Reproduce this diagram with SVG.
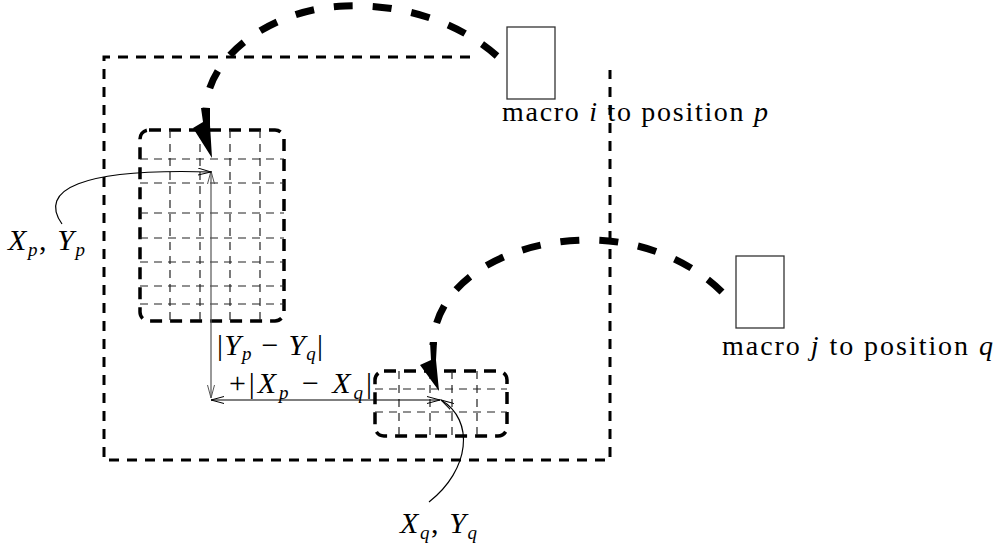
<svg xmlns="http://www.w3.org/2000/svg" width="1000" height="547" viewBox="0 0 1000 547">
<defs>
<style>
.outer{fill:none;stroke:#000;stroke-width:3;stroke-dasharray:10 8}
.blk{fill:none;stroke:#000;stroke-width:3.5;stroke-dasharray:12 8}
.grid{fill:none;stroke:#222;stroke-width:1.2;stroke-dasharray:8 6}
.move{fill:none;stroke:#000;stroke-width:7;stroke-dasharray:19 20}
.head{fill:#000;stroke:none}
.macro{fill:#fff;stroke:#333;stroke-width:1.3}
.thin{fill:none;stroke:#000;stroke-width:1.2}
.gray{fill:none;stroke:#555;stroke-width:1.2}
text{font-family:"Liberation Serif","Times New Roman",serif;fill:#000}
.lbl{font-size:28px}
.eq{font-size:30px}
.m{font-style:italic}
.sub{font-size:19px;font-style:italic}
</style>
<marker id="ah" viewBox="0 0 14 8" refX="13" refY="4" markerWidth="14" markerHeight="8" markerUnits="userSpaceOnUse" orient="auto-start-reverse">
<path d="M0,0.5 L13,4 L0,7.5" fill="none" stroke="#000" stroke-width="1"/>
</marker>
<marker id="ahg" viewBox="0 0 14 8" refX="13" refY="4" markerWidth="14" markerHeight="8" markerUnits="userSpaceOnUse" orient="auto-start-reverse">
<path d="M0,0.5 L13,4 L0,7.5" fill="none" stroke="#555" stroke-width="1"/>
</marker>
</defs>
<rect width="1000" height="547" fill="#fff"/>

<g id="region">
<path class="outer" d="M470,57 L104,57 L104,460 L610,460 L610,70"/>
</g>

<g id="block-p">
<rect class="blk" x="140" y="130" width="144" height="191" rx="9"/>
<path class="grid" d="M170,130V321M200,130V321M230,130V321M260,130V321M140,159H284M140,183H284M140,213H284M140,238H284M140,262H284M140,286H284M140,304H284"/>
</g>

<g id="block-q">
<rect class="blk" x="375" y="371" width="132" height="65" rx="9"/>
<path class="grid" d="M399,371V436M430,371V436M452,371V436M477,371V436M375,389H507M375,412H507"/>
</g>

<g id="macro-i">
<rect class="macro" x="507" y="27" width="48" height="72"/>
<text class="lbl" x="502" y="121" textLength="266" lengthAdjust="spacing">macro <tspan class="m">i</tspan> to position <tspan class="m">p</tspan></text>
</g>

<g id="macro-j">
<rect class="macro" x="736" y="256" width="48" height="72"/>
<text class="lbl" x="722" y="355" textLength="271" lengthAdjust="spacing">macro <tspan class="m">j</tspan> to position <tspan class="m">q</tspan></text>
</g>

<g id="label-p">
<text class="eq" x="8" y="250" textLength="77" lengthAdjust="spacing"><tspan class="m">X</tspan><tspan class="sub" y="256">p</tspan><tspan y="250">, </tspan><tspan class="m">Y</tspan><tspan class="sub" y="256">p</tspan></text>
</g>

<g id="label-q">
<text class="eq" x="400" y="533" textLength="77" lengthAdjust="spacing"><tspan class="m">X</tspan><tspan class="sub" y="539">q</tspan><tspan y="533">, </tspan><tspan class="m">Y</tspan><tspan class="sub" y="539">q</tspan></text>
</g>

<g id="label-dist">
<text class="eq" x="217" y="355" textLength="106" lengthAdjust="spacing">|<tspan class="m">Y</tspan><tspan class="sub" y="360">p</tspan><tspan y="355"> − </tspan><tspan class="m">Y</tspan><tspan class="sub" y="360">q</tspan><tspan y="355">|</tspan></text>
<text class="eq" x="229" y="393" textLength="143" lengthAdjust="spacing">+|<tspan class="m">X</tspan><tspan class="sub" y="399">p</tspan><tspan y="393"> − </tspan><tspan class="m">X</tspan><tspan class="sub" y="399">q</tspan><tspan y="393">|</tspan></text>
</g>

<g id="connectors">
<path class="move" d="M497,56 C450,15 390,4 345,6 C275,8 205,55 206,112"/>
<polygon class="head" points="201,108 210,108 210,125 212,158 193,128 203,122"/>
<path class="move" d="M722,292 C690,260 640,240 590,240 C510,240 435,280 433,345"/>
<polygon class="head" points="430,342 437,342 436,360 439,391 420,365 431,360"/>
<path class="gray" d="M211,171 L211,398" marker-start="url(#ahg)" marker-end="url(#ahg)"/>
<path class="thin" d="M211,400 L440,400" marker-start="url(#ah)" marker-end="url(#ah)"/>
<path class="thin" d="M62,224 C38,190 80,168 211,172" marker-end="url(#ah)"/>
<path class="thin" d="M429,502 C470,470 475,420 441,400" marker-end="url(#ah)"/>
</g>
</svg>
